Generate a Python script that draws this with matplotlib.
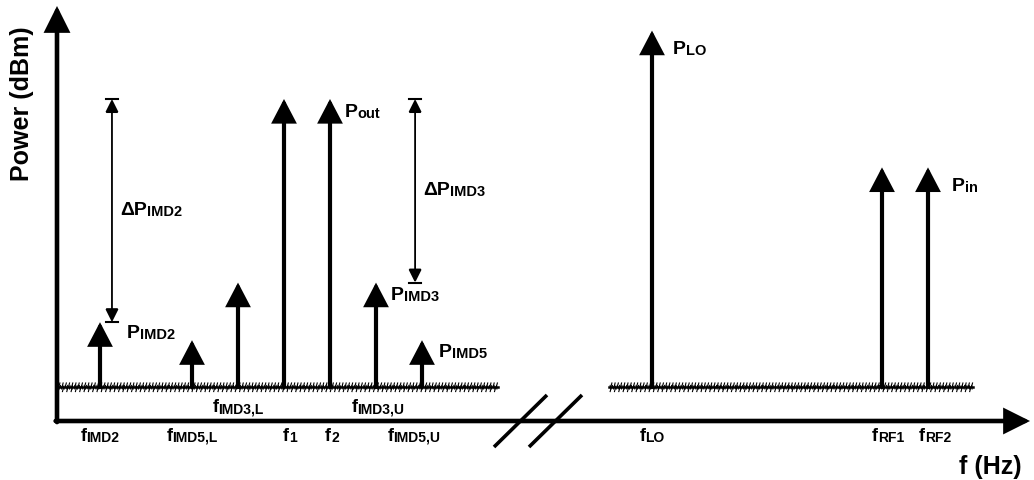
import matplotlib
matplotlib.use("Agg")
import matplotlib.pyplot as plt
import matplotlib.patheffects as pe
from matplotlib.patches import FancyArrowPatch

plt.rcParams['font.family'] = ['Liberation Sans', 'DejaVu Sans']
plt.rcParams['font.weight'] = 'bold'

# Tones (frequency in plot slots, power in dBm, sketch levels)
tone_freq = [1, 3, 4, 5, 6, 7, 8, 13, 18, 19]
tone_power = [-62, -67, -51, 0, 0, -51, -67, 19, -19, -19]
tone_subs = ['IMD2', 'IMD5,L', 'IMD3,L', '1', '2', 'IMD3,U', 'IMD5,U', 'LO', 'RF1', 'RF2']
label_row = [0, 0, 1, 0, 0, 1, 0, 0, 0, 0]  # 1 = upper row
label_shift = [0, 0, 0, 6, 2, 2, -8, 0, 6, 7]  # pixels

# power labels: (tone index, subscript)
power_labels = [(0, 'IMD2'), (4, 'out'), (5, 'IMD3'), (6, 'IMD5'), (7, 'LO'), (9, 'in')]
power_offsets = [(27, -16), (15, -18), (15, -17), (17, -17), (21, -23), (24, -24)]

noise_floor = -80
floor_spans = [(0.07, 9.65), (12.07, 19.98)]

# delta markers: (x slot, upper tone index, lower tone index, subscript)
deltas = [(1.26, 3, 0, 'IMD2'), (7.85, 3, 2, 'IMD3')]

# pixel -> data helpers for the sketch layout
PX_X, PX_Y = 46.0, 3.6


def px(q, p):
    return ((q - 54) / PX_X, noise_floor + (387 - p) / PX_Y)


fig = plt.figure(figsize=(10.34, 4.8), dpi=100)
ax = fig.add_axes([0, 0, 1, 1])
x0, y0 = px(0, 480)
x1, y1 = px(1034, 0)
ax.set_xlim(x0, x1)
ax.set_ylim(y0, y1)
ax.axis('off')
renderer = fig.canvas.get_renderer()


def arrow(a, b, lw, hl, hw, style='-|>', z=3):
    ax.add_patch(FancyArrowPatch(a, b, arrowstyle=f'{style},head_length={hl},head_width={hw}',
                                 mutation_scale=10, lw=lw, color='black',
                                 shrinkA=0, shrinkB=0, joinstyle='miter', zorder=z))


def sub_label(xy, main, sub, size, subsize, dx=0, dy=0, center=False):
    t1 = ax.annotate(main, xy, xytext=(dx, dy), textcoords='offset pixels',
                     fontsize=size, fontweight='bold', ha='left', va='baseline')
    w1 = t1.get_window_extent(renderer).width
    t2 = ax.annotate(sub, xy, xytext=(dx + w1, dy - 1), textcoords='offset pixels',
                     fontsize=subsize, fontweight='bold', ha='left', va='baseline')
    if center:
        w = w1 + t2.get_window_extent(renderer).width
        t1.xyann = (dx - w / 2, dy)
        t2.xyann = (dx - w / 2 + w1, dy - 1)


# axes
ax_x, ax_y = px(57, 421)
arrow((ax_x, ax_y - 0.3), px(57, 6), 3.3, 1.4, 0.7)
arrow((ax_x - 0.03, ax_y), px(1030, 421), 3.3, 1.4, 0.7)

# axis break
for q in (494, 529):
    a = px(q, 447)
    b = px(q + 53, 395)
    ax.plot([a[0], b[0]], [a[1], b[1]], color='black', lw=2.6, solid_capstyle='butt')

# noise floor
effects = [pe.TickedStroke(spacing=2.3, angle=75, length=1.3, linewidth=0.8),
           pe.TickedStroke(spacing=3.1, angle=-105, length=1.1, linewidth=0.8),
           pe.TickedStroke(spacing=1.7, angle=100, length=0.7, linewidth=0.7),
           pe.TickedStroke(spacing=1.9, angle=-80, length=0.8, linewidth=0.7),
           pe.Normal()]
for s, e in floor_spans:
    ax.plot([s, e], [noise_floor, noise_floor], color='black', lw=1.8,
            path_effects=effects, zorder=2)

# tones
for f, p in zip(tone_freq, tone_power):
    arrow((f, noise_floor), (f, p), 3.0, 1.3, 0.68)

# tone labels
for f, sub, row, sh in zip(tone_freq, tone_subs, label_row, label_shift):
    yb = px(0, 412)[1] if row else px(0, 441)[1]
    sub_label((f, yb), 'f', sub, 13, 10, dx=sh, center=True)

# power labels
for (i, sub), (dx, dy) in zip(power_labels, power_offsets):
    sub_label((tone_freq[i], tone_power[i]), 'P', sub, 14, 10.5, dx=dx, dy=dy)

# delta markers
cap = 6 / PX_X
for x, hi, lo, sub in deltas:
    top, bot = tone_power[hi], tone_power[lo]
    arrow((x, bot), (x, top), 1.3, 0.8, 0.4, style='<|-|>', z=4)
    for y in (top, bot):
        ax.plot([x - cap, x + cap], [y, y], color='black', lw=1.5)
    sub_label((x, (top + bot) / 2), '\u0394P', sub, 14, 10.5, dx=8, dy=-4)

# axis titles
ax.text(*px(22, 104), 'Power (dBm)', rotation=90, fontsize=18, fontweight='bold',
        ha='center', va='center')
ax.text(*px(1022, 474), 'f (Hz)', fontsize=18, fontweight='bold', ha='right', va='baseline')

fig.savefig('out.png', dpi=100)
